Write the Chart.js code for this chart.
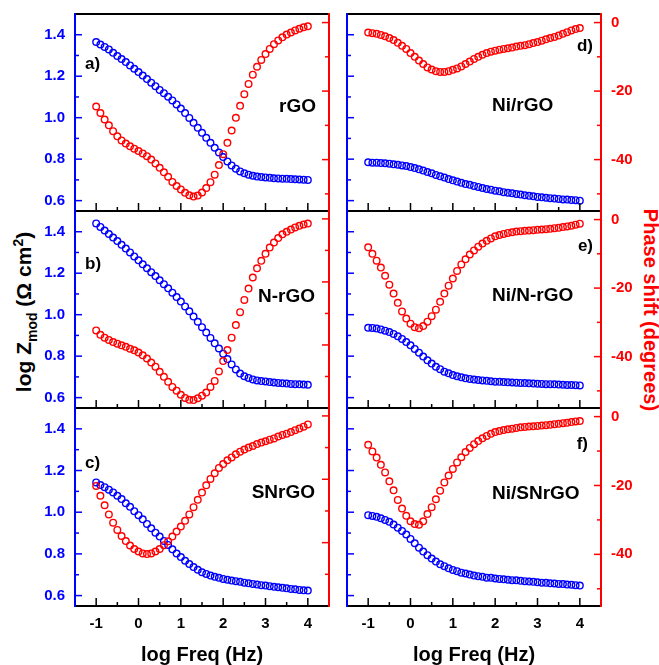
<!DOCTYPE html>
<html>
<head>
<meta charset="utf-8">
<script src="https://cdn.jsdelivr.net/npm/chart.js@4.4.0/dist/chart.umd.min.js"></script>
<style>
  body { margin: 0; background: #fff; }
  #fig { position: relative; width: 659px; height: 665px; overflow: hidden;
         font-family: "Liberation Sans", Arial, sans-serif; font-weight: bold; }
  #fig canvas { position: absolute; }
  .lbl { position: absolute; white-space: nowrap; line-height: 1; }
</style>
</head>
<body>
<div id="fig">
  <div class="lbl" style="font-size:21px;left:25px;top:312px;transform:translate(-50%,-50%) rotate(-90deg);">log Z<sub style="font-size:14px">mod</sub> (&Omega; cm<sup style="font-size:14px">2</sup>)</div>
  <div class="lbl" style="font-size:20px;color:#ff0000;left:651px;top:310px;transform:translate(-50%,-50%) rotate(90deg);">Phase shift (degrees)</div>
</div>
<script>
// log frequency (Hz), 10 points per decade
const logFreq = [-1.0, -0.9, -0.8, -0.7, -0.6, -0.5, -0.4, -0.3, -0.2, -0.1,
  0.0, 0.1, 0.2, 0.3, 0.4, 0.5, 0.6, 0.7, 0.8, 0.9,
  1.0, 1.1, 1.2, 1.3, 1.4, 1.5, 1.6, 1.7, 1.8, 1.9,
  2.0, 2.1, 2.2, 2.3, 2.4, 2.5, 2.6, 2.7, 2.8, 2.9,
  3.0, 3.1, 3.2, 3.3, 3.4, 3.5, 3.6, 3.7, 3.8, 3.9, 4.0];

// a) rGO
const zRGO = [1.365, 1.353, 1.341, 1.329, 1.313, 1.297, 1.283, 1.268, 1.252, 1.236,
  1.220, 1.203, 1.186, 1.169, 1.152, 1.134, 1.118, 1.101, 1.083, 1.064,
  1.044, 1.022, 0.999, 0.975, 0.951, 0.927, 0.903, 0.879, 0.855, 0.832,
  0.810, 0.789, 0.770, 0.754, 0.741, 0.732, 0.725, 0.720, 0.716, 0.714,
  0.712, 0.710, 0.708, 0.707, 0.706, 0.705, 0.704, 0.703, 0.702, 0.701, 0.700];
const phaseRGO = [-24.5, -26.4, -28.3, -30.0, -31.7, -33.2, -34.4, -35.3, -36.1, -36.8,
  -37.5, -38.2, -39.0, -40.0, -41.1, -42.4, -43.7, -45.0, -46.5, -47.7,
  -48.7, -49.7, -50.4, -50.8, -50.5, -49.6, -48.3, -46.6, -44.4, -41.6,
  -38.4, -35.1, -31.5, -27.8, -24.3, -20.9, -17.9, -15.2, -12.9, -10.9,
  -9.2, -7.7, -6.3, -5.2, -4.3, -3.5, -2.9, -2.3, -1.8, -1.4, -1.1];

// b) N-rGO
const zNRGO = [1.440, 1.423, 1.406, 1.389, 1.372, 1.355, 1.337, 1.319, 1.300, 1.281,
  1.262, 1.243, 1.224, 1.205, 1.186, 1.166, 1.147, 1.127, 1.106, 1.085,
  1.063, 1.040, 1.016, 0.991, 0.966, 0.940, 0.914, 0.888, 0.862, 0.837,
  0.812, 0.786, 0.760, 0.736, 0.716, 0.703, 0.695, 0.688, 0.683, 0.680,
  0.678, 0.675, 0.673, 0.671, 0.669, 0.668, 0.666, 0.665, 0.664, 0.663, 0.662];
const phaseNRGO = [-35.4, -36.8, -37.7, -38.4, -39.1, -39.6, -40.1, -40.6, -41.2, -41.7,
  -42.4, -43.3, -44.3, -45.6, -46.9, -48.5, -50.1, -51.7, -53.3, -54.5,
  -55.8, -56.8, -57.4, -57.5, -56.9, -56.1, -55.1, -53.3, -51.4, -48.4,
  -45.1, -41.6, -37.7, -33.7, -29.6, -25.7, -22.1, -18.6, -15.7, -13.3,
  -11.1, -9.1, -7.5, -6.1, -4.9, -4.1, -3.4, -2.7, -2.2, -1.8, -1.5];

// c) SNrGO
const zSNRGO = [1.143, 1.130, 1.120, 1.108, 1.095, 1.079, 1.063, 1.043, 1.026, 1.005,
  0.986, 0.966, 0.944, 0.923, 0.902, 0.883, 0.862, 0.843, 0.822, 0.802,
  0.785, 0.767, 0.751, 0.737, 0.724, 0.712, 0.704, 0.696, 0.690, 0.685,
  0.680, 0.676, 0.672, 0.669, 0.666, 0.662, 0.659, 0.656, 0.653, 0.650,
  0.648, 0.645, 0.642, 0.640, 0.637, 0.635, 0.632, 0.630, 0.627, 0.625, 0.624];
const phaseSNRGO = [-22.1, -25.2, -28.2, -31.1, -33.7, -36.0, -37.9, -39.5, -40.9, -42.0,
  -42.8, -43.4, -43.6, -43.4, -42.8, -42.0, -40.8, -39.6, -38.1, -36.5,
  -34.9, -33.1, -31.1, -28.8, -26.5, -24.2, -21.9, -19.9, -18.1, -16.4,
  -15.2, -14.0, -13.1, -12.1, -11.3, -10.6, -10.0, -9.5, -8.9, -8.4,
  -8.0, -7.5, -7.1, -6.5, -6.0, -5.6, -5.1, -4.5, -4.0, -3.4, -2.7];

// d) Ni/rGO
const zNiRGO = [0.785, 0.783, 0.783, 0.781, 0.780, 0.778, 0.775, 0.773, 0.770, 0.767,
  0.762, 0.757, 0.751, 0.745, 0.738, 0.732, 0.724, 0.717, 0.711, 0.704,
  0.698, 0.692, 0.686, 0.680, 0.676, 0.671, 0.666, 0.661, 0.656, 0.653,
  0.648, 0.645, 0.641, 0.638, 0.635, 0.632, 0.629, 0.626, 0.623, 0.621,
  0.618, 0.616, 0.614, 0.612, 0.610, 0.608, 0.606, 0.605, 0.603, 0.602, 0.600];
const phaseNiRGO = [-2.9, -3.1, -3.3, -3.6, -4.0, -4.5, -5.1, -5.9, -6.8, -7.7,
  -8.9, -10.0, -11.1, -12.1, -13.1, -13.7, -14.2, -14.4, -14.4, -14.2,
  -13.8, -13.4, -12.8, -12.1, -11.4, -10.6, -10.0, -9.4, -8.9, -8.5,
  -8.2, -7.9, -7.7, -7.5, -7.3, -7.0, -6.8, -6.6, -6.3, -6.0,
  -5.7, -5.3, -4.9, -4.5, -4.2, -3.8, -3.3, -2.8, -2.3, -1.9, -1.6];

// e) Ni/N-rGO
const zNiNRGO = [0.937, 0.936, 0.933, 0.929, 0.923, 0.916, 0.907, 0.896, 0.883, 0.868,
  0.852, 0.835, 0.817, 0.798, 0.780, 0.764, 0.749, 0.737, 0.725, 0.717,
  0.709, 0.703, 0.698, 0.693, 0.690, 0.687, 0.685, 0.683, 0.681, 0.679,
  0.677, 0.676, 0.675, 0.674, 0.673, 0.672, 0.671, 0.670, 0.669, 0.668,
  0.667, 0.666, 0.665, 0.665, 0.664, 0.663, 0.662, 0.661, 0.661, 0.660, 0.659];
const phaseNiNRGO = [-8.1, -10.0, -12.0, -14.0, -16.4, -19.0, -21.6, -24.3, -26.8, -28.9,
  -30.4, -31.4, -31.7, -31.1, -29.8, -28.2, -26.3, -24.0, -21.6, -19.3,
  -17.2, -15.0, -13.1, -11.6, -10.2, -9.0, -7.9, -7.0, -6.2, -5.5,
  -4.9, -4.5, -4.2, -3.9, -3.7, -3.5, -3.4, -3.3, -3.2, -3.1,
  -3.0, -2.9, -2.8, -2.7, -2.5, -2.4, -2.2, -2.0, -1.8, -1.5, -1.2];

// f) Ni/SNrGO
const zNiSNRGO = [0.986, 0.982, 0.978, 0.971, 0.963, 0.954, 0.941, 0.926, 0.910, 0.893,
  0.872, 0.851, 0.830, 0.811, 0.794, 0.778, 0.763, 0.750, 0.741, 0.731,
  0.723, 0.717, 0.710, 0.706, 0.701, 0.696, 0.693, 0.690, 0.686, 0.685,
  0.682, 0.680, 0.678, 0.676, 0.674, 0.673, 0.671, 0.669, 0.667, 0.666,
  0.664, 0.662, 0.661, 0.659, 0.658, 0.656, 0.655, 0.653, 0.652, 0.650, 0.648];
const phaseNiSNRGO = [-8.2, -10.1, -11.9, -14.0, -16.2, -18.8, -21.4, -24.2, -26.7, -28.8,
  -30.4, -31.2, -31.4, -30.4, -28.3, -26.3, -24.0, -21.5, -19.1, -17.1,
  -15.2, -13.3, -11.8, -10.3, -9.1, -8.0, -7.1, -6.3, -5.6, -5.0,
  -4.5, -4.2, -3.9, -3.7, -3.5, -3.3, -3.1, -3.0, -2.9, -2.8,
  -2.7, -2.6, -2.5, -2.4, -2.2, -2.1, -1.9, -1.8, -1.6, -1.4, -1.3];

const BLUE = '#0000ff';
const RED = '#ff0000';
const FONT = '"Liberation Sans", Arial, sans-serif';

// plot-area edges in page pixels
const COLS = [[75, 329], [347, 601]];
const ROWS = [[14, 211], [211, 408], [408, 606]];
const CANVAS_X = [[0, 340], [340, 659]];

const panels = [
  { z: zRGO, phase: phaseRGO, col: 0, row: 0, pMin: -55, tag: 'a)', name: 'rGO' },
  { z: zNRGO, phase: phaseNRGO, col: 0, row: 1, pMin: -60, tag: 'b)', name: 'N-rGO' },
  { z: zSNRGO, phase: phaseSNRGO, col: 0, row: 2, pMin: -60, tag: 'c)', name: 'SNrGO' },
  { z: zNiRGO, phase: phaseNiRGO, col: 1, row: 0, pMin: -55, tag: 'd)', name: 'Ni/rGO' },
  { z: zNiNRGO, phase: phaseNiNRGO, col: 1, row: 1, pMin: -55, tag: 'e)', name: 'Ni/N-rGO' },
  { z: zNiSNRGO, phase: phaseNiSNRGO, col: 1, row: 2, pMin: -55, tag: 'f)', name: 'Ni/SNrGO' }
];

// panel captions: [x, centre y, align]
const captionPos = {
  'a)': [85, 63, 'left'], 'rGO': [316, 105, 'right'],
  'b)': [85, 263, 'left'], 'N-rGO': [315, 295, 'right'],
  'c)': [85, 462, 'left'], 'SNrGO': [315, 491, 'right'],
  'd)': [593, 45, 'right'], 'Ni/rGO': [492, 104, 'left'],
  'e)': [593, 245, 'right'], 'Ni/N-rGO': [492, 294, 'left'],
  'f)': [588, 443, 'right'], 'Ni/SNrGO': [492, 492, 'left']
};

// frame + inward ticks, as in the original plot
const framePlugin = {
  id: 'frame',
  afterDatasetsDraw(chart) {
    const { ctx, chartArea: a, scales } = chart;
    ctx.save();
    ctx.lineWidth = 1.5;
    const inside = (s, v) => v > s.min + 1e-6 && v < s.max - 1e-6;

    ctx.strokeStyle = '#000';
    scales.x.ticks.forEach(t => {
      if (!inside(scales.x, t.value)) return;
      const px = scales.x.getPixelForValue(t.value);
      const len = Number.isInteger(t.value) ? 8 : 4;
      ctx.beginPath(); ctx.moveTo(px, a.bottom); ctx.lineTo(px, a.bottom - len); ctx.stroke();
    });
    ctx.strokeStyle = BLUE;
    scales.y.ticks.forEach(t => {
      if (!inside(scales.y, t.value)) return;
      const py = scales.y.getPixelForValue(t.value);
      const len = Math.round(t.value * 10) % 2 === 0 ? 7 : 4;
      ctx.beginPath(); ctx.moveTo(a.left, py); ctx.lineTo(a.left + len, py); ctx.stroke();
    });
    ctx.strokeStyle = RED;
    scales.y1.ticks.forEach(t => {
      if (!inside(scales.y1, t.value)) return;
      const py = scales.y1.getPixelForValue(t.value);
      const len = t.value % 20 === 0 ? 7 : 4;
      ctx.beginPath(); ctx.moveTo(a.right, py); ctx.lineTo(a.right - len, py); ctx.stroke();
    });

    ctx.lineWidth = 2;
    ctx.strokeStyle = '#000';
    ctx.beginPath();
    ctx.moveTo(a.left, a.top); ctx.lineTo(a.right, a.top);
    ctx.moveTo(a.left, a.bottom); ctx.lineTo(a.right, a.bottom);
    ctx.stroke();
    ctx.strokeStyle = BLUE;
    ctx.beginPath(); ctx.moveTo(a.left, a.top - 1); ctx.lineTo(a.left, a.bottom + 1); ctx.stroke();
    ctx.strokeStyle = RED;
    ctx.beginPath(); ctx.moveTo(a.right, a.top - 1); ctx.lineTo(a.right, a.bottom + 1); ctx.stroke();
    ctx.restore();
  }
};

const fig = document.getElementById('fig');

// keep the plot area exactly where we put it: no extra room for edge labels
function noPad(s) {
  s.paddingTop = 0; s.paddingBottom = 0; s.paddingLeft = 0; s.paddingRight = 0;
}

function makePanel(p) {
  const [cLeft, cRight] = CANVAS_X[p.col];
  const [x0, x1] = COLS[p.col];
  const [y0, y1] = ROWS[p.row];
  const bottomRow = p.row === 2;
  const cTop = y0 - 6;
  const cBottom = bottomRow ? 665 : y1 + 6;

  const canvas = document.createElement('canvas');
  canvas.width = cRight - cLeft;
  canvas.height = cBottom - cTop;
  canvas.style.left = cLeft + 'px';
  canvas.style.top = cTop + 'px';
  canvas.style.width = canvas.width + 'px';
  canvas.style.height = canvas.height + 'px';
  fig.appendChild(canvas);

  const pointStyle = color => ({
    borderColor: color,
    backgroundColor: 'rgba(0,0,0,0)',
    pointRadius: 3.3,
    pointBorderWidth: 1.4,
    showLine: false
  });
  const tickFont = { family: FONT, size: 15, weight: 'bold' };

  new Chart(canvas, {
    type: 'scatter',
    data: {
      datasets: [
        Object.assign({ label: 'Phase', yAxisID: 'y1',
          data: logFreq.map((x, i) => ({ x: x, y: p.phase[i] })) }, pointStyle(RED)),
        Object.assign({ label: 'log Zmod', yAxisID: 'y',
          data: logFreq.map((x, i) => ({ x: x, y: p.z[i] })) }, pointStyle(BLUE))
      ]
    },
    options: {
      responsive: false,
      animation: false,
      events: [],
      layout: { padding: { top: 6, left: 0, right: 0, bottom: 0 } },
      plugins: { legend: { display: false }, tooltip: { enabled: false } },
      scales: {
        x: {
          type: 'linear', min: -1.5, max: 4.5,
          grid: { display: false, drawTicks: false },
          border: { display: false },
          ticks: {
            display: bottomRow, stepSize: 0.5, autoSkip: false, maxRotation: 0,
            padding: 9, color: '#000', font: tickFont,
            callback: v => Number.isInteger(v) ? String(v) : ''
          },
          title: {
            display: bottomRow, text: 'log Freq (Hz)', color: '#000',
            font: { family: FONT, size: 20, weight: 'bold' }, padding: { top: 0, bottom: -2 }
          },
          afterFit: s => { s.height = cBottom - y1; noPad(s); }
        },
        y: {
          position: 'left', min: 0.55, max: 1.5,
          grid: { display: false, drawTicks: false },
          border: { display: false },
          ticks: {
            display: p.col === 0, stepSize: 0.1, includeBounds: false, autoSkip: false,
            padding: 10, color: BLUE, font: tickFont,
            callback: v => {
              const k = Math.round(v * 10);
              return (k % 2 === 0 && k >= 6 && k <= 14) ? (k / 10).toFixed(1) : '';
            }
          },
          afterFit: s => { s.width = x0 - cLeft; noPad(s); }
        },
        y1: {
          position: 'right', min: p.pMin, max: 2.5,
          grid: { display: false, drawTicks: false },
          border: { display: false },
          ticks: {
            display: p.col === 1, stepSize: 10, includeBounds: false, autoSkip: false,
            padding: 10, color: RED, font: tickFont,
            callback: v => (v % 20 === 0 && v <= 0) ? String(v) : ''
          },
          afterFit: s => { s.width = cRight - x1; noPad(s); }
        }
      }
    },
    plugins: [framePlugin]
  });

  [p.tag, p.name].forEach(text => {
    const [x, y, align] = captionPos[text];
    const size = text.endsWith(')') ? 17 : 19;
    const div = document.createElement('div');
    div.className = 'lbl';
    div.textContent = text;
    div.style.fontSize = size + 'px';
    div.style.top = (y - size / 2) + 'px';
    if (align === 'left') div.style.left = x + 'px';
    else div.style.right = (659 - x) + 'px';
    fig.appendChild(div);
  });
}

panels.forEach(makePanel);
</script>
</body>
</html>
